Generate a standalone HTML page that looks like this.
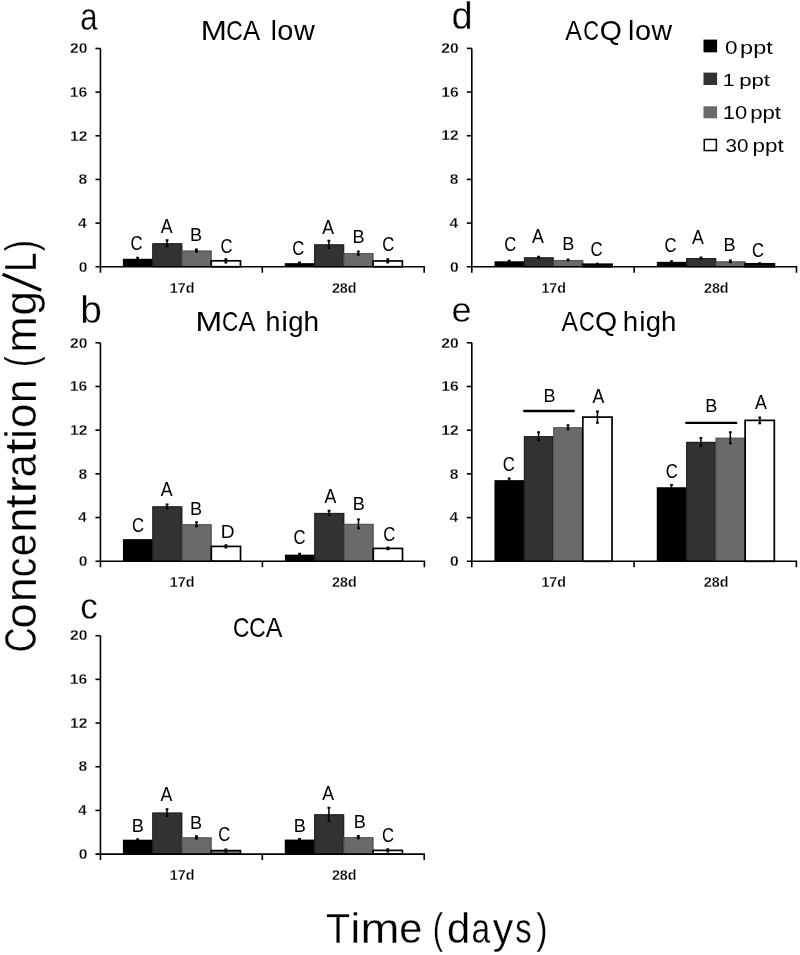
<!DOCTYPE html>
<html><head><meta charset="utf-8"><style>
html,body{margin:0;padding:0;background:#fff;}
svg{display:block;will-change:transform;}
text{font-family:"Liberation Sans", sans-serif;}
.thin text{stroke:#fff;stroke-width:0.3px;}
.tb{stroke:#fff;stroke-width:0.25px;}
</style></head><body>
<svg width="800" height="955" viewBox="0 0 800 955">
<rect width="800" height="955" fill="#fff"/>
<rect x="122.90" y="258.78" width="30.12" height="7.97" fill="#000000"/>
<path d="M137.61 257.69V259.88" stroke="#000" stroke-width="1.5" fill="none"/><path d="M136.21 257.69h2.8M136.21 259.88h2.8" stroke="#000" stroke-width="2" fill="none"/>
<rect x="152.32" y="243.29" width="30.12" height="23.46" fill="#323232"/>
<rect x="152.82" y="243.79" width="28.42" height="22.96" fill="none" stroke="#1e1e1e" stroke-width="1"/>
<path d="M167.03 240.23V246.34" stroke="#000" stroke-width="1.5" fill="none"/><path d="M165.63 240.23h2.8M165.63 246.34h2.8" stroke="#000" stroke-width="2" fill="none"/>
<rect x="181.74" y="250.60" width="30.12" height="16.15" fill="#6a6a6a"/>
<rect x="182.24" y="251.10" width="28.42" height="15.65" fill="none" stroke="#555555" stroke-width="1"/>
<path d="M196.45 249.51V251.69" stroke="#000" stroke-width="1.5" fill="none"/><path d="M195.05 249.51h2.8M195.05 251.69h2.8" stroke="#000" stroke-width="2" fill="none"/>
<rect x="211.26" y="260.80" width="29.22" height="5.95" fill="#fff" stroke="#000" stroke-width="1.7"/>
<path d="M225.87 259.17V262.44" stroke="#000" stroke-width="1.5" fill="none"/><path d="M224.47 259.17h2.8M224.47 262.44h2.8" stroke="#000" stroke-width="2" fill="none"/>
<rect x="284.77" y="263.15" width="30.12" height="3.60" fill="#000000"/>
<path d="M299.48 262.60V263.69" stroke="#000" stroke-width="1.5" fill="none"/><path d="M298.08 262.60h2.8M298.08 263.69h2.8" stroke="#000" stroke-width="2" fill="none"/>
<rect x="314.19" y="244.38" width="30.12" height="22.37" fill="#323232"/>
<rect x="314.69" y="244.88" width="28.42" height="21.87" fill="none" stroke="#1e1e1e" stroke-width="1"/>
<path d="M328.90 240.78V247.98" stroke="#000" stroke-width="1.5" fill="none"/><path d="M327.50 240.78h2.8M327.50 247.98h2.8" stroke="#000" stroke-width="2" fill="none"/>
<rect x="343.61" y="253.11" width="30.12" height="13.64" fill="#6a6a6a"/>
<rect x="344.11" y="253.61" width="28.42" height="13.14" fill="none" stroke="#555555" stroke-width="1"/>
<path d="M358.32 251.47V254.75" stroke="#000" stroke-width="1.5" fill="none"/><path d="M356.92 251.47h2.8M356.92 254.75h2.8" stroke="#000" stroke-width="2" fill="none"/>
<rect x="373.13" y="260.97" width="29.22" height="5.78" fill="#fff" stroke="#000" stroke-width="1.7"/>
<path d="M387.74 259.33V262.60" stroke="#000" stroke-width="1.5" fill="none"/><path d="M386.34 259.33h2.8M386.34 262.60h2.8" stroke="#000" stroke-width="2" fill="none"/>
<path d="M95.45 266.75H424.20V272.75M262.32 266.75v6M100.45 48.50V272.75" stroke="#000" stroke-width="1.6" fill="none"/>
<path d="M95.45 223.10H100.45" stroke="#000" stroke-width="1.6"/>
<path d="M95.45 179.45H100.45" stroke="#000" stroke-width="1.6"/>
<path d="M95.45 135.80H100.45" stroke="#000" stroke-width="1.6"/>
<path d="M95.45 92.15H100.45" stroke="#000" stroke-width="1.6"/>
<path d="M95.45 48.50H100.45" stroke="#000" stroke-width="1.6"/>
<rect x="122.95" y="539.14" width="30.12" height="22.06" fill="#000000"/>
<rect x="152.37" y="506.38" width="30.12" height="54.82" fill="#323232"/>
<rect x="152.87" y="506.88" width="28.42" height="54.32" fill="none" stroke="#1e1e1e" stroke-width="1"/>
<path d="M167.08 504.53V508.24" stroke="#000" stroke-width="1.5" fill="none"/><path d="M165.68 504.53h2.8M165.68 508.24h2.8" stroke="#000" stroke-width="2" fill="none"/>
<rect x="181.79" y="524.29" width="30.12" height="36.91" fill="#6a6a6a"/>
<rect x="182.29" y="524.79" width="28.42" height="36.41" fill="none" stroke="#555555" stroke-width="1"/>
<path d="M196.50 522.22V526.37" stroke="#000" stroke-width="1.5" fill="none"/><path d="M195.10 522.22h2.8M195.10 526.37h2.8" stroke="#000" stroke-width="2" fill="none"/>
<rect x="211.31" y="546.40" width="29.22" height="14.80" fill="#fff" stroke="#000" stroke-width="1.7"/>
<path d="M225.92 545.31V547.50" stroke="#000" stroke-width="1.5" fill="none"/><path d="M224.52 545.31h2.8M224.52 547.50h2.8" stroke="#000" stroke-width="2" fill="none"/>
<rect x="284.92" y="554.65" width="30.12" height="6.55" fill="#000000"/>
<path d="M299.63 553.77V555.52" stroke="#000" stroke-width="1.5" fill="none"/><path d="M298.23 553.77h2.8M298.23 555.52h2.8" stroke="#000" stroke-width="2" fill="none"/>
<rect x="314.34" y="512.93" width="30.12" height="48.27" fill="#323232"/>
<rect x="314.84" y="513.43" width="28.42" height="47.77" fill="none" stroke="#1e1e1e" stroke-width="1"/>
<path d="M329.05 510.64V515.23" stroke="#000" stroke-width="1.5" fill="none"/><path d="M327.65 510.64h2.8M327.65 515.23h2.8" stroke="#000" stroke-width="2" fill="none"/>
<rect x="343.76" y="523.85" width="30.12" height="37.35" fill="#6a6a6a"/>
<rect x="344.26" y="524.35" width="28.42" height="36.85" fill="none" stroke="#555555" stroke-width="1"/>
<path d="M358.47 519.38V528.33" stroke="#000" stroke-width="1.5" fill="none"/><path d="M357.07 519.38h2.8M357.07 528.33h2.8" stroke="#000" stroke-width="2" fill="none"/>
<rect x="373.28" y="548.42" width="29.22" height="12.78" fill="#fff" stroke="#000" stroke-width="1.7"/>
<path d="M387.89 547.55V549.30" stroke="#000" stroke-width="1.5" fill="none"/><path d="M386.49 547.55h2.8M386.49 549.30h2.8" stroke="#000" stroke-width="2" fill="none"/>
<path d="M95.45 561.20H424.40V567.20M262.43 561.20v6M100.45 342.80V567.20" stroke="#000" stroke-width="1.6" fill="none"/>
<path d="M95.45 517.52H100.45" stroke="#000" stroke-width="1.6"/>
<path d="M95.45 473.84H100.45" stroke="#000" stroke-width="1.6"/>
<path d="M95.45 430.16H100.45" stroke="#000" stroke-width="1.6"/>
<path d="M95.45 386.48H100.45" stroke="#000" stroke-width="1.6"/>
<path d="M95.45 342.80H100.45" stroke="#000" stroke-width="1.6"/>
<rect x="122.90" y="839.69" width="30.12" height="14.41" fill="#000000"/>
<path d="M137.61 839.14V840.23" stroke="#000" stroke-width="1.5" fill="none"/><path d="M136.21 839.14h2.8M136.21 840.23h2.8" stroke="#000" stroke-width="2" fill="none"/>
<rect x="152.32" y="812.60" width="30.12" height="41.50" fill="#323232"/>
<rect x="152.82" y="813.10" width="28.42" height="41.00" fill="none" stroke="#1e1e1e" stroke-width="1"/>
<path d="M167.03 809.22V815.99" stroke="#000" stroke-width="1.5" fill="none"/><path d="M165.63 809.22h2.8M165.63 815.99h2.8" stroke="#000" stroke-width="2" fill="none"/>
<rect x="181.74" y="837.39" width="30.12" height="16.71" fill="#6a6a6a"/>
<rect x="182.24" y="837.89" width="28.42" height="16.21" fill="none" stroke="#555555" stroke-width="1"/>
<path d="M196.45 836.30V838.48" stroke="#000" stroke-width="1.5" fill="none"/><path d="M195.05 836.30h2.8M195.05 838.48h2.8" stroke="#000" stroke-width="2" fill="none"/>
<rect x="211.26" y="850.61" width="29.22" height="3.49" fill="#777" stroke="#000" stroke-width="1.7"/>
<path d="M225.87 849.51V851.70" stroke="#000" stroke-width="1.5" fill="none"/><path d="M224.47 849.51h2.8M224.47 851.70h2.8" stroke="#000" stroke-width="2" fill="none"/>
<rect x="284.77" y="839.58" width="30.12" height="14.52" fill="#000000"/>
<path d="M299.48 839.03V840.12" stroke="#000" stroke-width="1.5" fill="none"/><path d="M298.08 839.03h2.8M298.08 840.12h2.8" stroke="#000" stroke-width="2" fill="none"/>
<rect x="314.19" y="814.35" width="30.12" height="39.75" fill="#323232"/>
<rect x="314.69" y="814.85" width="28.42" height="39.25" fill="none" stroke="#1e1e1e" stroke-width="1"/>
<path d="M328.90 807.80V820.90" stroke="#000" stroke-width="1.5" fill="none"/><path d="M327.50 807.80h2.8M327.50 820.90h2.8" stroke="#000" stroke-width="2" fill="none"/>
<rect x="343.61" y="837.17" width="30.12" height="16.93" fill="#6a6a6a"/>
<rect x="344.11" y="837.67" width="28.42" height="16.43" fill="none" stroke="#555555" stroke-width="1"/>
<path d="M358.32 836.08V838.27" stroke="#000" stroke-width="1.5" fill="none"/><path d="M356.92 836.08h2.8M356.92 838.27h2.8" stroke="#000" stroke-width="2" fill="none"/>
<rect x="373.13" y="850.39" width="29.22" height="3.71" fill="#fff" stroke="#000" stroke-width="1.7"/>
<path d="M387.74 849.30V851.48" stroke="#000" stroke-width="1.5" fill="none"/><path d="M386.34 849.30h2.8M386.34 851.48h2.8" stroke="#000" stroke-width="2" fill="none"/>
<path d="M95.45 854.10H424.20V860.10M262.32 854.10v6M100.45 635.70V860.10" stroke="#000" stroke-width="1.6" fill="none"/>
<path d="M95.45 810.42H100.45" stroke="#000" stroke-width="1.6"/>
<path d="M95.45 766.74H100.45" stroke="#000" stroke-width="1.6"/>
<path d="M95.45 723.06H100.45" stroke="#000" stroke-width="1.6"/>
<path d="M95.45 679.38H100.45" stroke="#000" stroke-width="1.6"/>
<path d="M95.45 635.70H100.45" stroke="#000" stroke-width="1.6"/>
<rect x="494.49" y="261.29" width="30.12" height="5.46" fill="#000000"/>
<path d="M509.19 260.75V261.84" stroke="#000" stroke-width="1.5" fill="none"/><path d="M507.80 260.75h2.8M507.80 261.84h2.8" stroke="#000" stroke-width="2" fill="none"/>
<rect x="523.90" y="257.36" width="30.12" height="9.39" fill="#323232"/>
<rect x="524.40" y="257.86" width="28.42" height="8.89" fill="none" stroke="#1e1e1e" stroke-width="1"/>
<path d="M538.62 256.82V257.91" stroke="#000" stroke-width="1.5" fill="none"/><path d="M537.22 256.82h2.8M537.22 257.91h2.8" stroke="#000" stroke-width="2" fill="none"/>
<rect x="553.33" y="259.98" width="30.12" height="6.77" fill="#6a6a6a"/>
<rect x="553.83" y="260.48" width="28.42" height="6.27" fill="none" stroke="#555555" stroke-width="1"/>
<path d="M568.04 259.44V260.53" stroke="#000" stroke-width="1.5" fill="none"/><path d="M566.64 259.44h2.8M566.64 260.53h2.8" stroke="#000" stroke-width="2" fill="none"/>
<rect x="582.85" y="264.24" width="29.22" height="2.51" fill="#111" stroke="#000" stroke-width="1.7"/>
<path d="M597.46 263.69V264.78" stroke="#000" stroke-width="1.5" fill="none"/><path d="M596.06 263.69h2.8M596.06 264.78h2.8" stroke="#000" stroke-width="2" fill="none"/>
<rect x="656.84" y="261.84" width="30.12" height="4.91" fill="#000000"/>
<path d="M671.55 261.29V262.38" stroke="#000" stroke-width="1.5" fill="none"/><path d="M670.15 261.29h2.8M670.15 262.38h2.8" stroke="#000" stroke-width="2" fill="none"/>
<rect x="686.25" y="258.02" width="30.12" height="8.73" fill="#323232"/>
<rect x="686.75" y="258.52" width="28.42" height="8.23" fill="none" stroke="#1e1e1e" stroke-width="1"/>
<path d="M700.97 257.47V258.56" stroke="#000" stroke-width="1.5" fill="none"/><path d="M699.57 257.47h2.8M699.57 258.56h2.8" stroke="#000" stroke-width="2" fill="none"/>
<rect x="715.68" y="261.40" width="30.12" height="5.35" fill="#6a6a6a"/>
<rect x="716.18" y="261.90" width="28.42" height="4.85" fill="none" stroke="#555555" stroke-width="1"/>
<path d="M730.39 260.53V262.27" stroke="#000" stroke-width="1.5" fill="none"/><path d="M728.99 260.53h2.8M728.99 262.27h2.8" stroke="#000" stroke-width="2" fill="none"/>
<rect x="745.20" y="263.80" width="29.22" height="2.95" fill="#111" stroke="#000" stroke-width="1.7"/>
<path d="M759.81 263.26V264.35" stroke="#000" stroke-width="1.5" fill="none"/><path d="M758.41 263.26h2.8M758.41 264.35h2.8" stroke="#000" stroke-width="2" fill="none"/>
<path d="M466.80 266.75H796.50V272.75M634.15 266.75v6M471.80 48.40V272.75" stroke="#000" stroke-width="1.6" fill="none"/>
<path d="M466.80 223.08H471.80" stroke="#000" stroke-width="1.6"/>
<path d="M466.80 179.41H471.80" stroke="#000" stroke-width="1.6"/>
<path d="M466.80 135.74H471.80" stroke="#000" stroke-width="1.6"/>
<path d="M466.80 92.07H471.80" stroke="#000" stroke-width="1.6"/>
<path d="M466.80 48.40H471.80" stroke="#000" stroke-width="1.6"/>
<rect x="494.46" y="480.13" width="30.12" height="81.17" fill="#000000"/>
<path d="M509.17 478.49V481.77" stroke="#000" stroke-width="1.5" fill="none"/><path d="M507.77 478.49h2.8M507.77 481.77h2.8" stroke="#000" stroke-width="2" fill="none"/>
<rect x="523.88" y="436.21" width="30.12" height="125.09" fill="#323232"/>
<rect x="524.38" y="436.71" width="28.42" height="124.59" fill="none" stroke="#1e1e1e" stroke-width="1"/>
<path d="M538.59 432.17V440.25" stroke="#000" stroke-width="1.5" fill="none"/><path d="M537.19 432.17h2.8M537.19 440.25h2.8" stroke="#000" stroke-width="2" fill="none"/>
<rect x="553.30" y="427.25" width="30.12" height="134.05" fill="#6a6a6a"/>
<rect x="553.80" y="427.75" width="28.42" height="133.55" fill="none" stroke="#555555" stroke-width="1"/>
<path d="M568.01 425.17V429.33" stroke="#000" stroke-width="1.5" fill="none"/><path d="M566.61 425.17h2.8M566.61 429.33h2.8" stroke="#000" stroke-width="2" fill="none"/>
<rect x="582.82" y="417.09" width="29.22" height="144.21" fill="#fff" stroke="#000" stroke-width="1.7"/>
<path d="M597.43 411.52V422.66" stroke="#000" stroke-width="1.5" fill="none"/><path d="M596.03 411.52h2.8M596.03 422.66h2.8" stroke="#000" stroke-width="2" fill="none"/>
<rect x="656.76" y="487.23" width="30.12" height="74.07" fill="#000000"/>
<path d="M671.47 485.04V489.41" stroke="#000" stroke-width="1.5" fill="none"/><path d="M670.07 485.04h2.8M670.07 489.41h2.8" stroke="#000" stroke-width="2" fill="none"/>
<rect x="686.18" y="441.89" width="30.12" height="119.41" fill="#323232"/>
<rect x="686.68" y="442.39" width="28.42" height="118.91" fill="none" stroke="#1e1e1e" stroke-width="1"/>
<path d="M700.89 437.96V445.82" stroke="#000" stroke-width="1.5" fill="none"/><path d="M699.49 437.96h2.8M699.49 445.82h2.8" stroke="#000" stroke-width="2" fill="none"/>
<rect x="715.60" y="437.74" width="30.12" height="123.56" fill="#6a6a6a"/>
<rect x="716.10" y="438.24" width="28.42" height="123.06" fill="none" stroke="#555555" stroke-width="1"/>
<path d="M730.31 432.17V443.31" stroke="#000" stroke-width="1.5" fill="none"/><path d="M728.91 432.17h2.8M728.91 443.31h2.8" stroke="#000" stroke-width="2" fill="none"/>
<rect x="745.12" y="420.37" width="29.22" height="140.93" fill="#fff" stroke="#000" stroke-width="1.7"/>
<path d="M759.73 417.42V423.32" stroke="#000" stroke-width="1.5" fill="none"/><path d="M758.33 417.42h2.8M758.33 423.32h2.8" stroke="#000" stroke-width="2" fill="none"/>
<path d="M466.80 561.30H796.40V567.30M634.10 561.30v6M471.80 342.80V567.30" stroke="#000" stroke-width="1.6" fill="none"/>
<path d="M466.80 517.60H471.80" stroke="#000" stroke-width="1.6"/>
<path d="M466.80 473.90H471.80" stroke="#000" stroke-width="1.6"/>
<path d="M466.80 430.20H471.80" stroke="#000" stroke-width="1.6"/>
<path d="M466.80 386.50H471.80" stroke="#000" stroke-width="1.6"/>
<path d="M466.80 342.80H471.80" stroke="#000" stroke-width="1.6"/>
<path d="M524.1 411H573.8M686.2 422.9H736.3" stroke="#000" stroke-width="2.3" stroke-linecap="round"/>
<rect x="703.5" y="39.6" width="13.6" height="12.70" fill="#000"/>
<rect x="703.5" y="72.6" width="13.6" height="12.40" fill="#323232"/>
<rect x="703.5" y="106.3" width="13.6" height="12.00" fill="#6a6a6a"/>
<rect x="704.25" y="139.45" width="12.10" height="11.10" fill="#fff" stroke="#000" stroke-width="1.5"/>
<path d="M2.6 274.2L41.2 290.2" stroke="#000" stroke-width="3.1"/>
<text transform="translate(78.63,271.50) scale(1.06,1)" font-size="14.79" font-weight="bold" class="tb">0</text>
<text transform="translate(78.08,227.85) scale(1.06,1)" font-size="14.79" font-weight="bold" class="tb">4</text>
<text transform="translate(78.47,184.20) scale(1.06,1)" font-size="14.79" font-weight="bold" class="tb">8</text>
<text transform="translate(69.93,140.55) scale(1.06,1)" font-size="14.79" font-weight="bold" class="tb">12</text>
<text transform="translate(69.85,96.90) scale(1.06,1)" font-size="14.79" font-weight="bold" class="tb">16</text>
<text transform="translate(69.93,53.25) scale(1.06,1)" font-size="14.79" font-weight="bold" class="tb">20</text>
<text transform="translate(169.82,292.65) scale(0.96,1)" font-size="14.90" font-weight="bold" class="tb">17d</text>
<text transform="translate(331.88,292.65) scale(0.96,1)" font-size="14.90" font-weight="bold" class="tb">28d</text>
<text transform="translate(78.63,565.95) scale(1.06,1)" font-size="14.79" font-weight="bold" class="tb">0</text>
<text transform="translate(78.08,522.27) scale(1.06,1)" font-size="14.79" font-weight="bold" class="tb">4</text>
<text transform="translate(78.47,478.59) scale(1.06,1)" font-size="14.79" font-weight="bold" class="tb">8</text>
<text transform="translate(69.93,434.91) scale(1.06,1)" font-size="14.79" font-weight="bold" class="tb">12</text>
<text transform="translate(69.85,391.23) scale(1.06,1)" font-size="14.79" font-weight="bold" class="tb">16</text>
<text transform="translate(69.93,347.55) scale(1.06,1)" font-size="14.79" font-weight="bold" class="tb">20</text>
<text transform="translate(169.87,587.10) scale(0.96,1)" font-size="14.90" font-weight="bold" class="tb">17d</text>
<text transform="translate(332.03,587.10) scale(0.96,1)" font-size="14.90" font-weight="bold" class="tb">28d</text>
<text transform="translate(78.63,858.85) scale(1.06,1)" font-size="14.79" font-weight="bold" class="tb">0</text>
<text transform="translate(78.08,815.17) scale(1.06,1)" font-size="14.79" font-weight="bold" class="tb">4</text>
<text transform="translate(78.47,771.49) scale(1.06,1)" font-size="14.79" font-weight="bold" class="tb">8</text>
<text transform="translate(69.93,727.81) scale(1.06,1)" font-size="14.79" font-weight="bold" class="tb">12</text>
<text transform="translate(69.85,684.13) scale(1.06,1)" font-size="14.79" font-weight="bold" class="tb">16</text>
<text transform="translate(69.93,640.45) scale(1.06,1)" font-size="14.79" font-weight="bold" class="tb">20</text>
<text transform="translate(169.82,880.00) scale(0.96,1)" font-size="14.90" font-weight="bold" class="tb">17d</text>
<text transform="translate(331.88,880.00) scale(0.96,1)" font-size="14.90" font-weight="bold" class="tb">28d</text>
<text transform="translate(449.98,271.50) scale(1.06,1)" font-size="14.79" font-weight="bold" class="tb">0</text>
<text transform="translate(449.43,227.83) scale(1.06,1)" font-size="14.79" font-weight="bold" class="tb">4</text>
<text transform="translate(449.82,184.16) scale(1.06,1)" font-size="14.79" font-weight="bold" class="tb">8</text>
<text transform="translate(441.28,140.49) scale(1.06,1)" font-size="14.79" font-weight="bold" class="tb">12</text>
<text transform="translate(441.20,96.82) scale(1.06,1)" font-size="14.79" font-weight="bold" class="tb">16</text>
<text transform="translate(441.28,53.15) scale(1.06,1)" font-size="14.79" font-weight="bold" class="tb">20</text>
<text transform="translate(541.41,292.65) scale(0.96,1)" font-size="14.90" font-weight="bold" class="tb">17d</text>
<text transform="translate(703.94,292.65) scale(0.96,1)" font-size="14.90" font-weight="bold" class="tb">28d</text>
<text transform="translate(449.98,566.05) scale(1.06,1)" font-size="14.79" font-weight="bold" class="tb">0</text>
<text transform="translate(449.43,522.35) scale(1.06,1)" font-size="14.79" font-weight="bold" class="tb">4</text>
<text transform="translate(449.82,478.65) scale(1.06,1)" font-size="14.79" font-weight="bold" class="tb">8</text>
<text transform="translate(441.28,434.95) scale(1.06,1)" font-size="14.79" font-weight="bold" class="tb">12</text>
<text transform="translate(441.20,391.25) scale(1.06,1)" font-size="14.79" font-weight="bold" class="tb">16</text>
<text transform="translate(441.28,347.55) scale(1.06,1)" font-size="14.79" font-weight="bold" class="tb">20</text>
<text transform="translate(541.39,587.20) scale(0.96,1)" font-size="14.90" font-weight="bold" class="tb">17d</text>
<text transform="translate(703.87,587.20) scale(0.96,1)" font-size="14.90" font-weight="bold" class="tb">28d</text>
<text transform="translate(130.52,250.05) scale(0.8527,1)" font-size="19.58" font-weight="normal" fill="#000">C</text>
<text transform="translate(160.65,232.85) scale(0.9069,1)" font-size="19.57" font-weight="normal" fill="#000">A</text>
<text transform="translate(189.95,241.40) scale(0.9477,1)" font-size="19.13" font-weight="normal" fill="#000">B</text>
<text transform="translate(220.62,252.55) scale(0.8527,1)" font-size="19.58" font-weight="normal" fill="#000">C</text>
<text transform="translate(292.17,254.75) scale(0.8527,1)" font-size="19.58" font-weight="normal" fill="#000">C</text>
<text transform="translate(322.20,234.45) scale(0.9069,1)" font-size="19.57" font-weight="normal" fill="#000">A</text>
<text transform="translate(352.45,243.05) scale(0.9477,1)" font-size="19.13" font-weight="normal" fill="#000">B</text>
<text transform="translate(382.27,251.25) scale(0.8527,1)" font-size="19.58" font-weight="normal" fill="#000">C</text>
<text transform="translate(131.97,532.15) scale(0.8527,1)" font-size="19.58" font-weight="normal" fill="#000">C</text>
<text transform="translate(160.70,496.00) scale(0.9069,1)" font-size="19.57" font-weight="normal" fill="#000">A</text>
<text transform="translate(189.90,515.00) scale(0.9477,1)" font-size="19.13" font-weight="normal" fill="#000">B</text>
<text transform="translate(220.77,538.20) scale(1.0328,1)" font-size="18.55" font-weight="normal" fill="#000">D</text>
<text transform="translate(293.52,544.25) scale(0.8527,1)" font-size="19.58" font-weight="normal" fill="#000">C</text>
<text transform="translate(324.50,503.00) scale(0.9069,1)" font-size="19.57" font-weight="normal" fill="#000">A</text>
<text transform="translate(352.80,510.10) scale(0.9477,1)" font-size="19.13" font-weight="normal" fill="#000">B</text>
<text transform="translate(383.27,540.55) scale(0.8527,1)" font-size="19.58" font-weight="normal" fill="#000">C</text>
<text transform="translate(131.80,831.60) scale(0.9477,1)" font-size="19.13" font-weight="normal" fill="#000">B</text>
<text transform="translate(160.60,801.10) scale(0.9069,1)" font-size="19.57" font-weight="normal" fill="#000">A</text>
<text transform="translate(189.90,828.75) scale(0.9477,1)" font-size="19.13" font-weight="normal" fill="#000">B</text>
<text transform="translate(218.27,841.35) scale(0.8527,1)" font-size="19.58" font-weight="normal" fill="#000">C</text>
<text transform="translate(293.75,831.60) scale(0.9477,1)" font-size="19.13" font-weight="normal" fill="#000">B</text>
<text transform="translate(322.25,799.55) scale(0.9069,1)" font-size="19.57" font-weight="normal" fill="#000">A</text>
<text transform="translate(353.80,827.90) scale(0.9477,1)" font-size="19.13" font-weight="normal" fill="#000">B</text>
<text transform="translate(382.07,842.35) scale(0.8527,1)" font-size="19.58" font-weight="normal" fill="#000">C</text>
<text transform="translate(504.27,251.05) scale(0.8527,1)" font-size="19.58" font-weight="normal" fill="#000">C</text>
<text transform="translate(531.90,242.65) scale(0.9069,1)" font-size="19.57" font-weight="normal" fill="#000">A</text>
<text transform="translate(562.20,249.90) scale(0.9477,1)" font-size="19.13" font-weight="normal" fill="#000">B</text>
<text transform="translate(590.52,255.95) scale(0.8527,1)" font-size="19.58" font-weight="normal" fill="#000">C</text>
<text transform="translate(664.52,252.25) scale(0.8527,1)" font-size="19.58" font-weight="normal" fill="#000">C</text>
<text transform="translate(692.05,243.85) scale(0.9069,1)" font-size="19.57" font-weight="normal" fill="#000">A</text>
<text transform="translate(723.60,251.00) scale(0.9477,1)" font-size="19.13" font-weight="normal" fill="#000">B</text>
<text transform="translate(751.97,257.35) scale(0.8527,1)" font-size="19.58" font-weight="normal" fill="#000">C</text>
<text transform="translate(502.87,471.45) scale(0.8527,1)" font-size="19.58" font-weight="normal" fill="#000">C</text>
<text transform="translate(543.60,402.10) scale(0.9477,1)" font-size="19.13" font-weight="normal" fill="#000">B</text>
<text transform="translate(592.45,403.05) scale(0.9069,1)" font-size="19.57" font-weight="normal" fill="#000">A</text>
<text transform="translate(665.77,477.85) scale(0.8527,1)" font-size="19.58" font-weight="normal" fill="#000">C</text>
<text transform="translate(705.35,412.45) scale(0.9477,1)" font-size="19.13" font-weight="normal" fill="#000">B</text>
<text transform="translate(754.95,408.85) scale(0.9069,1)" font-size="19.57" font-weight="normal" fill="#000">A</text>
<g class="thin">
<text transform="translate(80.26,29.61) scale(0.8041,1)" font-size="38.64" font-weight="normal" fill="#000">a</text>
<text transform="translate(80.22,322.85) scale(0.9839,1)" font-size="39.52" font-weight="normal" fill="#000">b</text>
<text transform="translate(80.35,618.53) scale(0.9452,1)" font-size="37.09" font-weight="normal" fill="#000">c</text>
<text transform="translate(451.38,29.21) scale(0.9800,1)" font-size="38.78" font-weight="normal" fill="#000">d</text>
<text transform="translate(451.55,322.39) scale(1.0073,1)" font-size="35.91" font-weight="normal" fill="#000">e</text>
</g>
<text transform="translate(200.74,40.00) scale(1.1323,1)" font-size="27.68" font-weight="normal">M</text>
<text transform="translate(226.16,40.00) scale(0.8221,1)" font-size="27.68" font-weight="normal">C</text>
<text transform="translate(243.00,40.00) scale(0.9289,1)" font-size="27.68" font-weight="normal">A</text>
<text transform="translate(270.71,40.00) scale(1.0000,1)" font-size="27.68" font-weight="normal">l</text>
<text transform="translate(277.24,40.00) scale(1.0457,1)" font-size="27.68" font-weight="normal">o</text>
<text transform="translate(293.90,40.00) scale(1.0414,1)" font-size="27.68" font-weight="normal">w</text>
<text transform="translate(195.44,331.40) scale(1.1302,1)" font-size="28.26" font-weight="normal">M</text>
<text transform="translate(221.93,331.40) scale(0.7941,1)" font-size="28.26" font-weight="normal">C</text>
<text transform="translate(238.50,331.40) scale(0.8992,1)" font-size="28.26" font-weight="normal">A</text>
<text transform="translate(265.38,331.40) scale(0.9478,1)" font-size="28.26" font-weight="normal">h</text>
<text transform="translate(281.54,331.40) scale(1.0000,1)" font-size="28.26" font-weight="normal">i</text>
<text transform="translate(288.30,331.40) scale(0.9711,1)" font-size="28.26" font-weight="normal">g</text>
<text transform="translate(303.39,331.40) scale(0.9899,1)" font-size="28.26" font-weight="normal">h</text>
<text transform="translate(233.07,636.60) scale(0.8150,1)" font-size="27.83" font-weight="normal">C</text>
<text transform="translate(249.27,636.60) scale(0.8150,1)" font-size="27.83" font-weight="normal">C</text>
<text transform="translate(265.70,636.60) scale(0.8971,1)" font-size="27.83" font-weight="normal">A</text>
<text transform="translate(565.30,40.40) scale(0.8833,1)" font-size="28.26" font-weight="normal">A</text>
<text transform="translate(583.31,40.40) scale(0.7690,1)" font-size="28.26" font-weight="normal">C</text>
<text transform="translate(599.72,40.40) scale(1.0073,1)" font-size="28.26" font-weight="normal">Q</text>
<text transform="translate(628.07,40.40) scale(1.0000,1)" font-size="28.26" font-weight="normal">l</text>
<text transform="translate(634.95,40.40) scale(1.0206,1)" font-size="28.26" font-weight="normal">o</text>
<text transform="translate(651.55,40.40) scale(1.0079,1)" font-size="28.26" font-weight="normal">w</text>
<text transform="translate(561.50,331.20) scale(0.8726,1)" font-size="28.26" font-weight="normal">A</text>
<text transform="translate(578.91,331.20) scale(0.7690,1)" font-size="28.26" font-weight="normal">C</text>
<text transform="translate(594.92,331.20) scale(1.0073,1)" font-size="28.26" font-weight="normal">Q</text>
<text transform="translate(622.81,331.20) scale(0.9815,1)" font-size="28.26" font-weight="normal">h</text>
<text transform="translate(639.29,331.20) scale(1.0000,1)" font-size="28.26" font-weight="normal">i</text>
<text transform="translate(645.80,331.20) scale(0.9711,1)" font-size="28.26" font-weight="normal">g</text>
<text transform="translate(661.07,331.20) scale(0.9773,1)" font-size="28.26" font-weight="normal">h</text>
<text transform="translate(725.10,54.00) scale(1.2805,1)" font-size="17.57" font-weight="normal">0</text>
<text transform="translate(740.07,54.00) scale(1.3373,1)" font-size="17.57" font-weight="normal">ppt</text>
<text transform="translate(722.80,86.40) scale(1.2368,1)" font-size="17.29" font-weight="normal">1</text>
<text transform="translate(739.16,86.40) scale(1.2846,1)" font-size="17.29" font-weight="normal">ppt</text>
<text transform="translate(722.75,119.40) scale(1.2419,1)" font-size="17.71" font-weight="normal">10</text>
<text transform="translate(750.16,119.40) scale(1.2535,1)" font-size="17.71" font-weight="normal">ppt</text>
<text transform="translate(725.62,152.40) scale(1.1645,1)" font-size="17.71" font-weight="normal">30</text>
<text transform="translate(752.54,152.40) scale(1.2664,1)" font-size="17.71" font-weight="normal">ppt</text>
<g class="thin">
<text transform="translate(325.96,943.30) scale(0.9109,1)" font-size="43.33" font-weight="normal">T</text>
<text transform="translate(350.48,943.30) scale(1.0000,1)" font-size="43.33" font-weight="normal">i</text>
<text transform="translate(360.46,943.30) scale(1.0802,1)" font-size="43.33" font-weight="normal">m</text>
<text transform="translate(399.34,943.30) scale(0.9574,1)" font-size="43.33" font-weight="normal">e</text>
<text transform="translate(432.63,943.30) scale(0.7184,1)" font-size="43.33" font-weight="normal">(</text>
<text transform="translate(447.08,943.30) scale(0.9615,1)" font-size="43.33" font-weight="normal">d</text>
<text transform="translate(471.41,943.30) scale(0.7730,1)" font-size="43.33" font-weight="normal">a</text>
<text transform="translate(492.80,943.30) scale(0.9441,1)" font-size="43.33" font-weight="normal">y</text>
<text transform="translate(515.27,943.30) scale(0.7560,1)" font-size="43.33" font-weight="normal">s</text>
<text transform="translate(536.33,943.30) scale(0.7837,1)" font-size="43.33" font-weight="normal">)</text>
<text transform="translate(36.20,652.22) rotate(-90) scale(0.7726,1)" font-size="44.64" font-weight="normal">C</text>
<text transform="translate(36.20,628.50) rotate(-90) scale(1.0093,1)" font-size="44.64" font-weight="normal">o</text>
<text transform="translate(36.20,601.88) rotate(-90) scale(0.9910,1)" font-size="44.64" font-weight="normal">n</text>
<text transform="translate(36.20,577.36) rotate(-90) scale(0.8755,1)" font-size="44.64" font-weight="normal">c</text>
<text transform="translate(36.20,556.33) rotate(-90) scale(0.9104,1)" font-size="44.64" font-weight="normal">e</text>
<text transform="translate(36.20,532.42) rotate(-90) scale(1.0068,1)" font-size="44.64" font-weight="normal">n</text>
<text transform="translate(36.20,508.46) rotate(-90) scale(1.1421,1)" font-size="44.64" font-weight="normal">t</text>
<text transform="translate(36.20,493.38) rotate(-90) scale(1.1649,1)" font-size="44.64" font-weight="normal">r</text>
<text transform="translate(36.20,477.24) rotate(-90) scale(0.9179,1)" font-size="44.64" font-weight="normal">a</text>
<text transform="translate(36.20,454.04) rotate(-90) scale(1.2563,1)" font-size="44.64" font-weight="normal">t</text>
<text transform="translate(36.20,439.01) rotate(-90) scale(1.0000,1)" font-size="44.64" font-weight="normal">i</text>
<text transform="translate(36.20,427.94) rotate(-90) scale(0.9763,1)" font-size="44.64" font-weight="normal">o</text>
<text transform="translate(36.20,403.04) rotate(-90) scale(0.9435,1)" font-size="44.64" font-weight="normal">n</text>
<text transform="translate(36.20,367.05) rotate(-90) scale(0.7270,1)" font-size="44.64" font-weight="normal">(</text>
<text transform="translate(36.20,352.73) rotate(-90) scale(0.9755,1)" font-size="44.64" font-weight="normal">m</text>
<text transform="translate(36.20,315.56) rotate(-90) scale(0.9857,1)" font-size="44.64" font-weight="normal">g</text>
<text transform="translate(36.20,271.50) rotate(-90) scale(0.7551,1)" font-size="44.64" font-weight="normal">L</text>
<text transform="translate(36.20,251.27) rotate(-90) scale(0.7439,1)" font-size="44.64" font-weight="normal">)</text>
</g>
</svg>
</body></html>
